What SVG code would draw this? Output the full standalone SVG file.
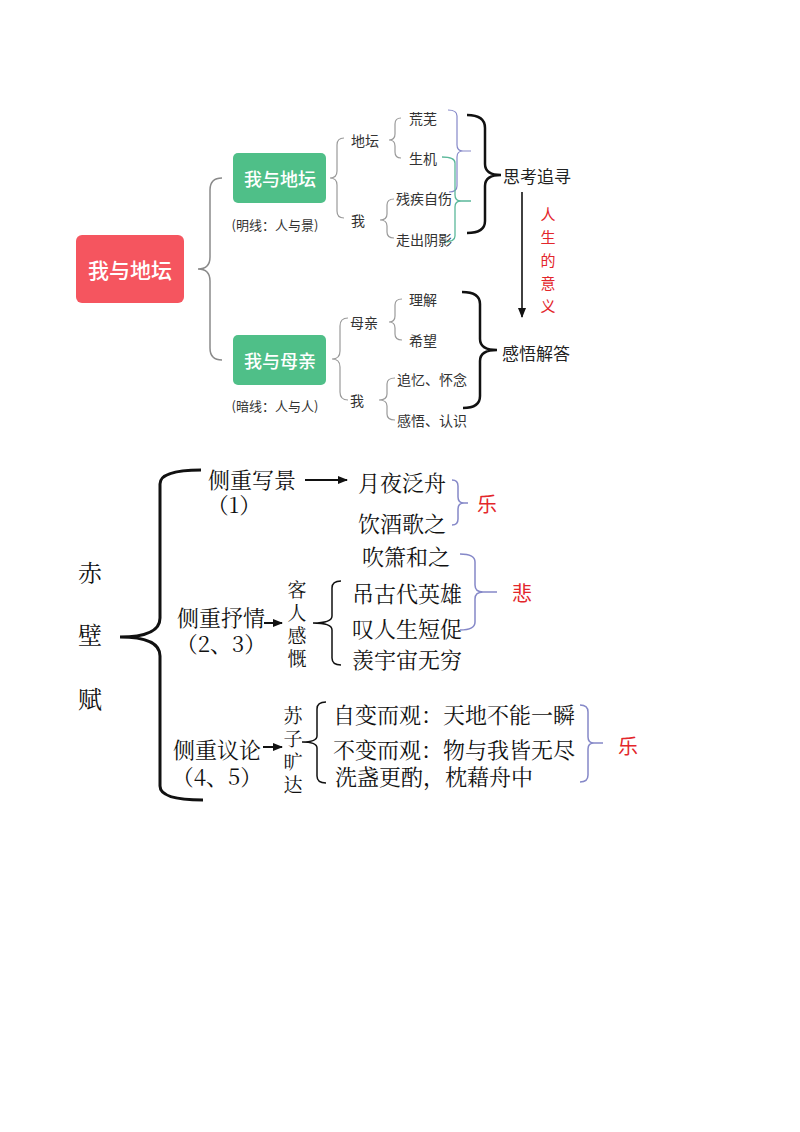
<svg xmlns="http://www.w3.org/2000/svg" width="800" height="1132" viewBox="0 0 800 1132">
<defs>
<style>
.sans{font-family:"Noto Sans CJK SC","Noto Sans",sans-serif;}
.song{font-family:"Noto Serif CJK SC","Liberation Serif","Noto Sans CJK SC",serif;}
text{dominant-baseline:central;}
.t14{font-size:14px;fill:#333;}
.t13{font-size:13px;fill:#333;}
.t17{font-size:17px;fill:#222;}
.box{font-size:18px;fill:#fff;font-weight:500;text-anchor:middle;}
.b22{font-size:22px;fill:#111;}
.b21{font-size:19px;fill:#111;text-anchor:middle;}
.red{fill:#e3262b;}
.gray{fill:none;stroke:#8a8a8a;stroke-width:1.5;}
.thin{fill:none;stroke:#9a9a9a;stroke-width:1.2;}
.blk{fill:none;stroke:#111;stroke-width:2.5;}
.blk1{fill:none;stroke:#111;stroke-width:1.5;}
.pur{fill:none;stroke:#8588c8;stroke-width:1.5;}
.teal{fill:none;stroke:#5bb89a;stroke-width:1.3;}
</style>
<marker id="ah" viewBox="0 0 10 10" refX="9" refY="5" markerWidth="10" markerHeight="10" markerUnits="userSpaceOnUse" orient="auto">
<path d="M0,1 L10,5 L0,9 Z" fill="#111"/>
</marker>
</defs>
<rect width="800" height="1132" fill="#fff"/>

<g id="connectors">
<path class="gray" d="M222,178 Q210,178 210,190 L210,257 Q210,269 198,269 Q210,269 210,281 L210,348 Q210,360 222,360"/>
<path class="thin" d="M344,138 Q337,138 337,145 L337,171 Q337,178 330,178 Q337,178 337,185 L337,211 Q337,218 344,218"/>
<path class="thin" d="M401,118 Q395,118 395,124 L395,134 Q395,140 389,140 Q395,140 395,146 L395,152 Q395,158 401,158"/>
<path class="thin" d="M394,199 Q387,199 387,205 L387,214 Q387,220 380,220 Q387,220 387,226 L387,232 Q387,238 394,238"/>
<path class="pur" style="stroke-width:1.2" d="M448,110 Q457,110 457,116 L457,145 Q457,151 463,151 L471,151 M463,151 Q457,151 457,157 L457,186 Q457,192 449,192"/>
<path class="teal" d="M442,157 Q455,157 455,163 L455,195 Q455,201 461,201 L471,201 M461,201 Q455,201 455,207 L455,236 Q455,242 444,242"/>
<path class="blk" d="M467,115 Q485,115 485,128 L485,164 Q485,175 501,175 Q485,175 485,186 L485,221 Q485,233 467,233"/>
<line x1="522" y1="192" x2="522" y2="317" stroke="#111" stroke-width="1.6" marker-end="url(#ah)"/>
<path class="thin" d="M348,318 Q340,318 340,326 L340,351 Q340,359 332,359 Q340,359 340,367 L340,392 Q340,400 348,400"/>
<path class="thin" d="M402,299 Q395,299 395,305 L395,316 Q395,322 389,322 Q395,322 395,328 L395,334 Q395,340 402,340"/>
<path class="thin" d="M395,378 Q387,378 387,384 L387,394 Q387,400 379,400 Q387,400 387,406 L387,414 Q387,420 395,420"/>
<path class="blk" d="M462,292 Q480,292 480,304 L480,339 Q480,350 497,350 Q480,350 480,361 L480,396 Q480,408 463,408"/>
<path class="blk" style="stroke-width:3" d="M201,470 Q160,470 160,484 L160,618 Q160,637 120,637 Q160,637 160,656 L160,786 Q160,800 203,800"/>
<line x1="305" y1="480" x2="347" y2="480" stroke="#111" stroke-width="2" marker-end="url(#ah)"/>
<line x1="264" y1="623" x2="282" y2="623" stroke="#111" stroke-width="2" marker-end="url(#ah)"/>
<line x1="263" y1="747" x2="282" y2="747" stroke="#111" stroke-width="2" marker-end="url(#ah)"/>
<path class="pur" d="M452,480 Q458,480 458,486 L458,497 Q458,503 464,503 L468,503 M464,503 Q458,503 458,509 L458,519 Q458,525 452,525"/>
<path class="blk1" d="M341,581 Q332,581 332,588 L332,616 Q332,623 313,623 Q332,623 332,630 L332,658 Q332,665 341,665"/>
<path class="pur" d="M460,554 Q475,554 475,562 L475,585 Q475,592 483,592 L497,592 M483,592 Q475,592 475,599 L475,622 Q475,630 460,630"/>
<path class="blk1" d="M326,702 Q317,702 317,709 L317,736 Q317,742 302,742 Q317,742 317,748 L317,776 Q317,783 326,783"/>
<path class="pur" d="M580,705 Q588,705 588,712 L588,737 Q588,743 594,743 L603,743 M594,743 Q588,743 588,749 L588,775 Q588,782 580,782"/>
</g>

<g id="root1">
<rect x="76" y="235" width="108" height="68" rx="6" fill="#f5555f"/>
<text class="sans box" x="130" y="269" style="font-size:21px">我与地坛</text>
</g>
<g id="node-ditan">
<rect x="233" y="153" width="93" height="50" rx="5" fill="#4fbf88"/>
<text class="sans box" x="280" y="178">我与地坛</text>
<text class="sans t13" x="275" y="224" text-anchor="middle">(明线：人与景)</text>
</g>
<g id="node-ditan-sub">
<text class="sans t14" x="351" y="140">地坛</text>
<text class="sans t14" x="351" y="220">我</text>
<text class="sans t14" x="409" y="118">荒芜</text>
<text class="sans t14" x="409" y="158">生机</text>
<text class="sans t14" x="396" y="198">残疾自伤</text>
<text class="sans t14" x="396" y="239">走出阴影</text>
</g>
<g id="node-sikao">
<text class="sans t17" x="503" y="175">思考追寻</text>
</g>
<g id="node-yiyi">
<text class="sans red" x="548" y="213" text-anchor="middle" font-size="15">人</text>
<text class="sans red" x="548" y="236" text-anchor="middle" font-size="15">生</text>
<text class="sans red" x="548" y="259" text-anchor="middle" font-size="15">的</text>
<text class="sans red" x="548" y="282" text-anchor="middle" font-size="15">意</text>
<text class="sans red" x="548" y="305" text-anchor="middle" font-size="15">义</text>
</g>
<g id="node-muqin">
<rect x="233" y="335" width="93" height="50" rx="5" fill="#4fbf88"/>
<text class="sans box" x="280" y="360">我与母亲</text>
<text class="sans t13" x="275" y="405" text-anchor="middle">(暗线：人与人)</text>
</g>
<g id="node-muqin-sub">
<text class="sans t14" x="350" y="322">母亲</text>
<text class="sans t14" x="350" y="400">我</text>
<text class="sans t14" x="409" y="299">理解</text>
<text class="sans t14" x="409" y="340">希望</text>
<text class="sans t14" x="397" y="379">追忆、怀念</text>
<text class="sans t14" x="397" y="420">感悟、认识</text>
</g>
<g id="node-ganwu">
<text class="sans t17" x="502" y="352">感悟解答</text>
</g>

<g id="root2">
<text class="song b22" x="78" y="571" style="font-size:24px">赤</text>
<text class="song b22" x="78" y="633" style="font-size:24px">壁</text>
<text class="song b22" x="78" y="697" style="font-size:24px">赋</text>
</g>
<g id="node-xiejing">
<text class="song b22" x="208" y="478">侧重写景</text>
<text class="song b22" x="234" y="503" text-anchor="middle">（1）</text>
</g>
<g id="node-le1">
<text class="song b22" x="358" y="481">月夜泛舟</text>
<text class="song b22" x="358" y="522">饮酒歌之</text>
<text class="sans red" x="477" y="503" font-size="20">乐</text>
</g>
<g id="node-shuqing">
<text class="song b22" x="177" y="616">侧重抒情</text>
<text class="song b22" x="221" y="642" text-anchor="middle">（2、3）</text>
</g>
<g id="node-keren">
<text class="song b21" x="297" y="588">客</text>
<text class="song b21" x="297" y="611">人</text>
<text class="song b21" x="297" y="634">感</text>
<text class="song b21" x="297" y="657">慨</text>
</g>
<g id="node-bei">
<text class="song b22" x="362" y="555">吹箫和之</text>
<text class="song b22" x="352" y="592">吊古代英雄</text>
<text class="song b22" x="352" y="627">叹人生短促</text>
<text class="song b22" x="352" y="658">羡宇宙无穷</text>
<text class="sans red" x="512" y="592" font-size="20">悲</text>
</g>
<g id="node-yilun">
<text class="song b22" x="173" y="748">侧重议论</text>
<text class="song b22" x="217" y="775" text-anchor="middle">（4、5）</text>
</g>
<g id="node-suzi">
<text class="song b21" x="293" y="714">苏</text>
<text class="song b21" x="293" y="737">子</text>
<text class="song b21" x="293" y="760">旷</text>
<text class="song b21" x="293" y="783">达</text>
</g>
<g id="node-le2">
<text class="song b22" x="333" y="713">自变而观：天地不能一瞬</text>
<text class="song b22" x="333" y="748">不变而观：物与我皆无尽</text>
<text class="song b22" x="335" y="775">洗盏更酌，枕藉舟中</text>
<text class="sans red" x="618" y="745" font-size="20">乐</text>
</g>
</svg>
